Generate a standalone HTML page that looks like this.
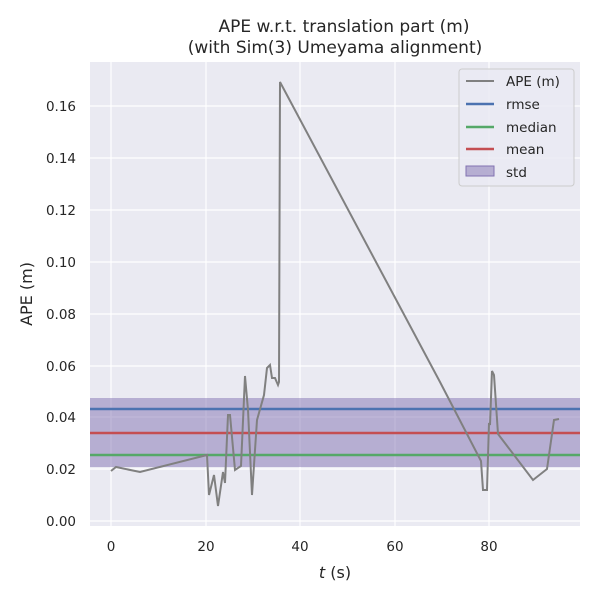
<!DOCTYPE html><html><head><style>body{margin:0;background:#fff}</style></head><body>
<svg width="600" height="600" xmlns="http://www.w3.org/2000/svg" font-family="DejaVu Sans, sans-serif">
<rect x="90" y="62" width="490" height="464" fill="#eaeaf2"/>
<g stroke="#fff" stroke-width="1.2">
<line x1="111" y1="62" x2="111" y2="526"/><line x1="206" y1="62" x2="206" y2="526"/><line x1="300" y1="62" x2="300" y2="526"/><line x1="395" y1="62" x2="395" y2="526"/><line x1="489" y1="62" x2="489" y2="526"/>
<line x1="90" y1="521" x2="580" y2="521"/><line x1="90" y1="469" x2="580" y2="469"/><line x1="90" y1="417" x2="580" y2="417"/><line x1="90" y1="366" x2="580" y2="366"/><line x1="90" y1="314" x2="580" y2="314"/><line x1="90" y1="262" x2="580" y2="262"/><line x1="90" y1="210" x2="580" y2="210"/><line x1="90" y1="158" x2="580" y2="158"/><line x1="90" y1="106" x2="580" y2="106"/>
</g>
<rect x="90" y="398" width="490" height="69" fill="#8172b2" fill-opacity="0.5"/>
<line x1="90" y1="409" x2="580" y2="409" stroke="#4c72b0" stroke-width="2.5"/>
<line x1="90" y1="433" x2="580" y2="433" stroke="#c44e52" stroke-width="2.5"/>
<line x1="90" y1="455" x2="580" y2="455" stroke="#55a868" stroke-width="2.5"/>
<polyline fill="none" stroke="#808080" stroke-width="2" points="111,471 116,467 140,472 207,455 209,495 214,475 218,506 223,472 225,483 228,415 230,415 235,470 241,466 245,376 248,410 252,495 257,420 264,395 267,368 270,365 272,378 275,378 278,385 279,382 280,82 440,382 481,461 483,490 487,490 489,423 490,425 492,371 494,375 498,434 533,480 547,469 554,420 559,419"/>
<g font-size="13.5" fill="#262626" text-anchor="end">
<text x="76" y="526">0.00</text><text x="76" y="474">0.02</text><text x="76" y="422">0.04</text><text x="76" y="371">0.06</text><text x="76" y="319">0.08</text><text x="76" y="267">0.10</text><text x="76" y="215">0.12</text><text x="76" y="163">0.14</text><text x="76" y="111">0.16</text>
</g>
<g font-size="13.5" fill="#262626" text-anchor="middle">
<text x="111" y="551">0</text><text x="206" y="551">20</text><text x="300" y="551">40</text><text x="395" y="551">60</text><text x="489" y="551">80</text>
<text x="335" y="578" font-size="16"><tspan font-style="italic">t</tspan> (s)</text>
<text x="344" y="32" font-size="17">APE w.r.t. translation part (m)</text>
<text x="335" y="53" font-size="17">(with Sim(3) Umeyama alignment)</text>
<text transform="translate(32,294) rotate(-90)" font-size="16">APE (m)</text>
</g>
<rect x="459" y="69" width="115" height="117" rx="3" fill="#eaeaf2" fill-opacity="0.8" stroke="#ccc"/>
<g stroke-width="2.5"><line x1="466" y1="81" x2="494" y2="81" stroke="#808080" stroke-width="2"/><line x1="466" y1="104" x2="494" y2="104" stroke="#4c72b0"/><line x1="466" y1="127" x2="494" y2="127" stroke="#55a868"/><line x1="466" y1="149" x2="494" y2="149" stroke="#c44e52"/></g>
<rect x="466" y="166" width="28" height="10" fill="#8172b2" fill-opacity="0.5" stroke="#8172b2"/>
<g font-size="13.5" fill="#262626"><text x="506" y="86">APE (m)</text><text x="506" y="109">rmse</text><text x="506" y="132">median</text><text x="506" y="154">mean</text><text x="506" y="177">std</text></g>
</svg></body></html>
